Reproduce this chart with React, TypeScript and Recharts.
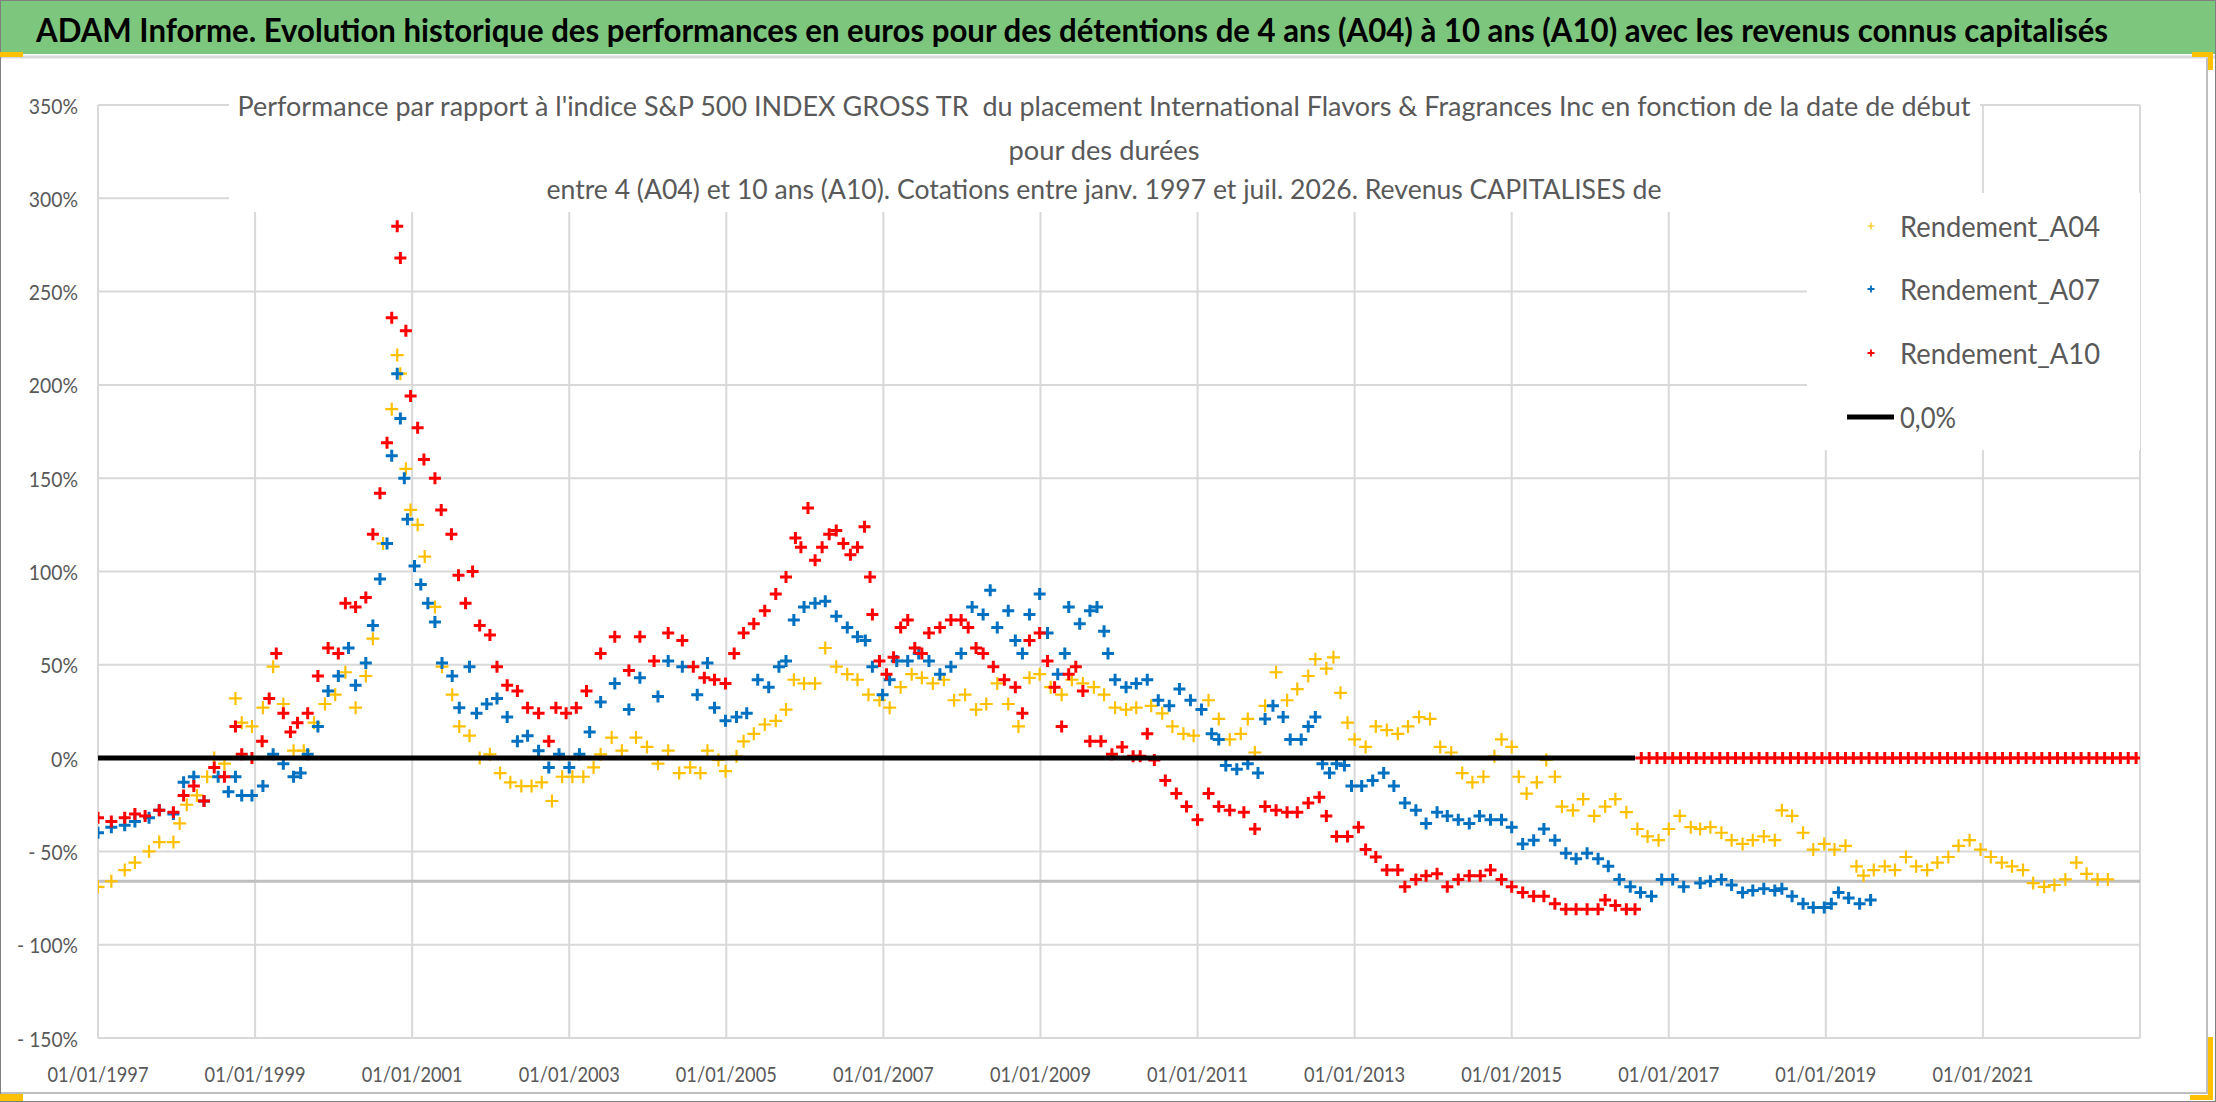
import React from 'react';
import { ScatterChart, Scatter, XAxis, YAxis, CartesianGrid, ReferenceLine } from 'recharts';

// page / plot geometry (px)
const W = 2216;
const H = 1102;
const PLOT = { left: 98, top: 105, right: 2140, bottom: 1038 };
const FONT = "Lato, 'Open Sans', sans-serif";
const GREY_TEXT = '#595959';

// ---- axes ----
const xTicks = [1997, 1999, 2001, 2003, 2005, 2007, 2009, 2011, 2013, 2015, 2017, 2019, 2021];
const xDomain = [1997, 2023];
const yTicks = [-150, -100, -50, 0, 50, 100, 150, 200, 250, 300, 350];
const yDomain = [-150, 350];
const lowerLineValue = -66;

// ---- series (start date as decimal year, performance in %) ----
const a04Years = [
  1997.0, 1997.17, 1997.34, 1997.47, 1997.65, 1997.78, 1997.96, 1998.04, 1998.13, 1998.26,
  1998.39, 1998.48, 1998.61, 1998.75, 1998.83, 1998.96, 1999.1, 1999.23, 1999.36, 1999.49,
  1999.62, 1999.75, 1999.89, 2000.02, 2000.15, 2000.28, 2000.41, 2000.5, 2000.63, 2000.74,
  2000.81, 2000.85, 2000.92, 2000.98, 2001.07, 2001.16, 2001.29, 2001.38, 2001.51, 2001.6,
  2001.73, 2001.86, 2001.99, 2002.12, 2002.25, 2002.39, 2002.52, 2002.65, 2002.78, 2002.91,
  2003.04, 2003.18, 2003.31, 2003.4, 2003.54, 2003.67, 2003.85, 2003.99, 2004.13, 2004.26,
  2004.4, 2004.54, 2004.67, 2004.76, 2004.9, 2004.99, 2005.13, 2005.22, 2005.35, 2005.49,
  2005.63, 2005.76, 2005.86, 2005.99, 2006.13, 2006.26, 2006.4, 2006.54, 2006.67, 2006.81,
  2006.95, 2007.08, 2007.22, 2007.36, 2007.49, 2007.63, 2007.77, 2007.9, 2008.04, 2008.18,
  2008.31, 2008.45, 2008.59, 2008.72, 2008.86, 2008.99, 2009.13, 2009.27, 2009.4, 2009.54,
  2009.68, 2009.81, 2009.95, 2010.09, 2010.22, 2010.41, 2010.55, 2010.68, 2010.82, 2010.95,
  2011.14, 2011.27, 2011.41, 2011.55, 2011.64, 2011.73, 2011.86, 2012.0, 2012.14, 2012.27,
  2012.41, 2012.5, 2012.64, 2012.73, 2012.82, 2012.91, 2013.0, 2013.14, 2013.27, 2013.41,
  2013.55, 2013.68, 2013.82, 2013.96, 2014.09, 2014.23, 2014.37, 2014.5, 2014.64, 2014.78,
  2014.87, 2015.0, 2015.09, 2015.19, 2015.32, 2015.44, 2015.55, 2015.64, 2015.78, 2015.91,
  2016.05, 2016.19, 2016.32, 2016.46, 2016.6, 2016.73, 2016.87, 2017.0, 2017.14, 2017.28,
  2017.4, 2017.53, 2017.67, 2017.8, 2017.94, 2018.07, 2018.21, 2018.35, 2018.44, 2018.57,
  2018.71, 2018.84, 2018.98, 2019.11, 2019.25, 2019.39, 2019.48, 2019.61, 2019.75, 2019.88,
  2020.02, 2020.15, 2020.29, 2020.42, 2020.56, 2020.69, 2020.83, 2020.97, 2021.1, 2021.24,
  2021.37, 2021.51, 2021.64, 2021.78, 2021.91, 2022.05, 2022.19, 2022.32, 2022.46, 2022.59,
];
const a04Values = [
  -69, -66, -60, -56, -50, -45, -45, -35, -25, -20,
  -10, 0, -3, 32, 19, 17, 27, 49, 29, 4,
  4, 19, 29, 34, 46, 27, 44, 64, 115, 187,
  216, 206, 155, 133, 125, 108, 81, 49, 34, 17,
  12, 0, 2, -8, -13, -15, -15, -13, -23, -10,
  -10, -10, -5, 2, 11, 4, 11, 6, -3, 4,
  -8, -5, -8, 4, -1, -7, 1, 9, 13, 18,
  20, 26, 42, 40, 40, 59, 49, 45, 42, 34,
  31, 27, 38, 45, 43, 40, 42, 31, 34, 26,
  29, 40, 29, 17, 43, 45, 38, 34, 42, 40,
  38, 34, 27, 26, 27, 28, 24, 17, 13, 12,
  31, 21, 10, 13, 21, 3, 28, 46, 31, 37,
  44, 53, 48, 54, 35, 19, 10, 6, 17, 15,
  13, 17, 22, 21, 6, 3, -8, -13, -10, 1,
  10, 6, -10, -19, -13, -1, -10, -26, -28, -22,
  -31, -26, -22, -29, -38, -42, -44, -38, -31, -37,
  -38, -37, -40, -44, -46, -44, -42, -44, -28, -31,
  -40, -49, -46, -49, -47, -58, -63, -60, -58, -60,
  -53, -58, -60, -56, -53, -47, -44, -49, -53, -56,
  -58, -60, -67, -69, -68, -65, -56, -62, -65, -65,
];

const a07Years = [
  1997.0, 1997.17, 1997.34, 1997.47, 1997.65, 1997.78, 1997.96, 1998.09, 1998.22, 1998.35,
  1998.53, 1998.66, 1998.75, 1998.83, 1998.96, 1999.1, 1999.23, 1999.36, 1999.49, 1999.58,
  1999.67, 1999.8, 1999.93, 2000.06, 2000.19, 2000.28, 2000.41, 2000.5, 2000.59, 2000.68,
  2000.74, 2000.81, 2000.85, 2000.9, 2000.94, 2001.03, 2001.11, 2001.2, 2001.29, 2001.38,
  2001.51, 2001.6, 2001.73, 2001.82, 2001.95, 2002.08, 2002.21, 2002.34, 2002.47, 2002.61,
  2002.74, 2002.87, 2003.0, 2003.13, 2003.26, 2003.4, 2003.58, 2003.76, 2003.9, 2004.13,
  2004.26, 2004.44, 2004.63, 2004.76, 2004.85, 2004.99, 2005.13, 2005.26, 2005.4, 2005.54,
  2005.67, 2005.76, 2005.86, 2005.99, 2006.13, 2006.26, 2006.4, 2006.54, 2006.67, 2006.77,
  2006.86, 2006.99, 2007.08, 2007.17, 2007.31, 2007.45, 2007.58, 2007.72, 2007.86, 2007.99,
  2008.13, 2008.27, 2008.36, 2008.45, 2008.59, 2008.68, 2008.77, 2008.86, 2008.99, 2009.09,
  2009.22, 2009.31, 2009.36, 2009.5, 2009.63, 2009.72, 2009.81, 2009.86, 2009.95, 2010.09,
  2010.22, 2010.36, 2010.5, 2010.64, 2010.77, 2010.91, 2011.05, 2011.18, 2011.27, 2011.36,
  2011.5, 2011.64, 2011.77, 2011.86, 2011.96, 2012.09, 2012.18, 2012.32, 2012.41, 2012.5,
  2012.59, 2012.68, 2012.77, 2012.87, 2012.96, 2013.09, 2013.23, 2013.37, 2013.5, 2013.64,
  2013.78, 2013.91, 2014.05, 2014.18, 2014.32, 2014.46, 2014.59, 2014.73, 2014.87, 2015.0,
  2015.14, 2015.28, 2015.41, 2015.55, 2015.69, 2015.82, 2015.96, 2016.1, 2016.23, 2016.37,
  2016.51, 2016.64, 2016.78, 2016.91, 2017.05, 2017.19, 2017.4, 2017.53, 2017.67, 2017.8,
  2017.94, 2018.07, 2018.21, 2018.35, 2018.44, 2018.57, 2018.71, 2018.84, 2018.98, 2019.07,
  2019.16, 2019.29, 2019.43, 2019.57,
];
const a07Values = [
  -40, -37, -36, -34, -32, -28, -30, -13, -10, -23,
  -10, -18, -10, -20, -20, -15, 2, -3, -10, -8,
  2, 17, 36, 44, 59, 39, 51, 71, 96, 115,
  162, 206, 182, 150, 128, 103, 93, 83, 73, 51,
  44, 27, 49, 24, 29, 32, 22, 9, 12, 4,
  -5, 2, -5, 2, 14, 30, 40, 26, 43, 33,
  52, 49, 34, 51, 27, 20, 22, 24, 42, 38,
  49, 52, 74, 81, 83, 84, 76, 70, 65, 63,
  49, 34, 42, 52, 52, 56, 52, 45, 49, 56,
  81, 77, 90, 70, 79, 63, 56, 77, 88, 67,
  45, 56, 81, 72, 79, 81, 68, 56, 42, 38,
  40, 42, 31, 28, 37, 31, 26, 13, 10, -4,
  -6, -3, -8, 21, 28, 22, 10, 10, 17, 22,
  -3, -8, -3, -4, -15, -15, -12, -8, -15, -24,
  -28, -35, -29, -31, -33, -35, -31, -33, -33, -37,
  -46, -44, -38, -44, -51, -54, -51, -54, -58, -65,
  -69, -72, -74, -65, -65, -69, -67, -66, -65, -68,
  -72, -71, -70, -71, -70, -74, -78, -80, -80, -78,
  -72, -75, -78, -76,
];

const a10Years = [
  1997.0, 1997.17, 1997.34, 1997.47, 1997.6, 1997.78, 1997.96, 1998.09, 1998.22, 1998.35,
  1998.48, 1998.61, 1998.75, 1998.83, 1998.96, 1999.09, 1999.18, 1999.27, 1999.36, 1999.45,
  1999.54, 1999.67, 1999.8, 1999.93, 2000.06, 2000.15, 2000.28, 2000.41, 2000.5, 2000.59,
  2000.68, 2000.74, 2000.81, 2000.85, 2000.92, 2000.98, 2001.07, 2001.15, 2001.29, 2001.37,
  2001.5, 2001.59, 2001.68, 2001.77, 2001.86, 2001.99, 2002.08, 2002.21, 2002.34, 2002.47,
  2002.61, 2002.74, 2002.83, 2002.96, 2003.09, 2003.22, 2003.4, 2003.58, 2003.76, 2003.9,
  2004.08, 2004.26, 2004.44, 2004.58, 2004.72, 2004.85, 2004.99, 2005.1, 2005.22, 2005.35,
  2005.49, 2005.63, 2005.76, 2005.88, 2005.95, 2006.04, 2006.13, 2006.22, 2006.31, 2006.4,
  2006.49, 2006.58, 2006.67, 2006.76, 2006.83, 2006.86, 2006.95, 2007.04, 2007.13, 2007.22,
  2007.31, 2007.4, 2007.49, 2007.58, 2007.72, 2007.86, 2007.99, 2008.08, 2008.18, 2008.27,
  2008.4, 2008.54, 2008.68, 2008.77, 2008.86, 2008.99, 2009.09, 2009.18, 2009.27, 2009.36,
  2009.45, 2009.54, 2009.63, 2009.77, 2009.91, 2010.04, 2010.18, 2010.27, 2010.36, 2010.45,
  2010.59, 2010.73, 2010.86, 2011.0, 2011.14, 2011.27, 2011.41, 2011.59, 2011.73, 2011.86,
  2012.0, 2012.14, 2012.27, 2012.41, 2012.55, 2012.64, 2012.77, 2012.91, 2013.05, 2013.14,
  2013.27, 2013.41, 2013.55, 2013.64, 2013.78, 2013.91, 2014.05, 2014.18, 2014.32, 2014.46,
  2014.6, 2014.73, 2014.87, 2015.0, 2015.14, 2015.28, 2015.41, 2015.55, 2015.69, 2015.82,
  2015.96, 2016.1, 2016.19, 2016.32, 2016.46, 2016.57,
  // from mid-2016 the 10-year window is not complete: value stays at 0
  2016.65, 2016.75, 2016.85, 2016.95, 2017.05, 2017.15, 2017.25, 2017.35, 2017.45, 2017.55,
  2017.65, 2017.75, 2017.85, 2017.95, 2018.05, 2018.15, 2018.25, 2018.35, 2018.45, 2018.55,
  2018.65, 2018.75, 2018.85, 2018.95, 2019.05, 2019.15, 2019.25, 2019.35, 2019.45, 2019.55,
  2019.65, 2019.75, 2019.85, 2019.95, 2020.05, 2020.15, 2020.25, 2020.35, 2020.45, 2020.55,
  2020.65, 2020.75, 2020.85, 2020.95, 2021.05, 2021.15, 2021.25, 2021.35, 2021.45, 2021.55,
  2021.65, 2021.75, 2021.85, 2021.95, 2022.05, 2022.15, 2022.25, 2022.35, 2022.45, 2022.55,
  2022.65, 2022.75, 2022.85, 2022.95,
];
const a10Values = [
  -32, -34, -32, -30, -31, -28, -29, -20, -15, -23,
  -5, -10, 17, 2, 0, 9, 32, 56, 24, 14,
  19, 24, 44, 59, 56, 83, 81, 86, 120, 142,
  169, 236, 285, 268, 229, 194, 177, 160, 150, 133,
  120, 98, 83, 100, 71, 66, 49, 39, 36, 27,
  24, 9, 27, 24, 27, 36, 56, 65, 47, 65,
  52, 67, 63, 49, 43, 42, 40, 56, 67, 72,
  79, 88, 97, 118, 113, 134, 106, 113, 120, 122,
  115, 109, 113, 124, 97, 77, 52, 45, 54, 70,
  74, 59, 56, 67, 70, 74, 74, 70, 59, 56,
  49, 42, 38, 24, 63, 67, 52, 38, 17, 45,
  49, 36, 9, 9, 2, 6, 1, 1, 13, -1,
  -12, -19, -26, -33, -19, -26, -28, -29, -38, -26,
  -28, -29, -29, -24, -21, -31, -42, -42, -37, -49,
  -53, -60, -60, -69, -65, -63, -62, -69, -65, -63,
  -63, -60, -65, -69, -72, -74, -74, -78, -81, -81,
  -81, -81, -76, -79, -81, -81,
  0, 0, 0, 0, 0, 0, 0, 0, 0, 0,
  0, 0, 0, 0, 0, 0, 0, 0, 0, 0,
  0, 0, 0, 0, 0, 0, 0, 0, 0, 0,
  0, 0, 0, 0, 0, 0, 0, 0, 0, 0,
  0, 0, 0, 0, 0, 0, 0, 0, 0, 0,
  0, 0, 0, 0, 0, 0, 0, 0, 0, 0,
  0, 0, 0, 0,
];

// black "0,0%" line, drawn while A10 has real values
const zeroLineYears = [1997.0, 2016.57];
const zeroLineValues = [0, 0];

const seriesNames = ['Rendement_A04', 'Rendement_A07', 'Rendement_A10'];
const seriesColors = ['#FFC000', '#0070C0', '#FF0000'];
const zeroLineName = '0,0%';

const mainTitle =
  'ADAM Informe. Evolution historique des performances en euros pour des détentions de 4 ans (A04) à 10 ans (A10) avec les revenus connus capitalisés';
const subTitleLines = [
  "Performance par rapport à l'indice S&P 500 INDEX GROSS TR  du placement International Flavors & Fragrances Inc en fonction de la date de début",
  'pour des durées',
  'entre 4 (A04) et 10 ans (A10). Cotations entre janv. 1997 et juil. 2026. Revenus CAPITALISES de',
];

const toPoints = (xs: number[], ys: number[]) => xs.map((x, i) => ({ x, y: ys[i] }));
const a04Data = toPoints(a04Years, a04Values);
const a07Data = toPoints(a07Years, a07Values);
const a10Data = toPoints(a10Years, a10Values);
const zeroData = toPoints(zeroLineYears, zeroLineValues);

const plusShape = (color: string, half: number, width: number) => (props: any) => {
  const { cx, cy } = props;
  if (typeof cx !== 'number' || typeof cy !== 'number') return <g />;
  return (
    <path
      d={`M${cx - half} ${cy}H${cx + half}M${cx} ${cy - half}V${cy + half}`}
      stroke={color}
      strokeWidth={width}
      fill="none"
    />
  );
};

const FitText = ({ x, y, w, size, anchor = 'start', weight = 400, color = GREY_TEXT, children }: any) => (
  <text
    x={x}
    y={y}
    fontFamily={FONT}
    fontSize={size}
    fontWeight={weight}
    fill={color}
    textAnchor={anchor}
    dominantBaseline="central"
    textLength={w}
    lengthAdjust="spacingAndGlyphs"
    style={{ whiteSpace: 'pre' }}
  >
    {children}
  </text>
);

const yLabel = (v: number) => (v < 0 ? `- ${-v}%` : `${v}%`);
const yLabelWidth = (v: number) =>
  22 * (0.507 * String(Math.abs(v)).length + 0.715 + (v < 0 ? 0.532 : 0));

const YTick = (props: any) => {
  const { y, payload } = props;
  return (
    <FitText x={78} y={y} w={yLabelWidth(payload.value)} size={22} anchor="end">
      {yLabel(payload.value)}
    </FitText>
  );
};

const XTick = (props: any) => {
  const { x, payload } = props;
  return (
    <FitText x={x} y={PLOT.bottom + 35} w={101} size={22} anchor="middle">
      {`01/01/${payload.value}`}
    </FitText>
  );
};

const Frame = () => (
  <svg width={W} height={H} style={{ position: 'absolute', left: 0, top: 0 }}>
    <rect x={0} y={0} width={W} height={54} fill="#7DC67E" />
    <line x1={0} y1={57} x2={W} y2={57} stroke="#D9D9D9" strokeWidth={3} />
    <line x1={2207} y1={58} x2={2207} y2={1093} stroke="#BFBFBF" strokeWidth={2} />
    <line x1={0} y1={1093} x2={2208} y2={1093} stroke="#BFBFBF" strokeWidth={2} />
    <rect x={0.5} y={0.5} width={W - 1} height={H - 1} fill="none" stroke="#808080" strokeWidth={1} />
    <rect x={0} y={52} width={23} height={5} fill="#FFC000" />
    <rect x={2192} y={52} width={21} height={5} fill="#FFC000" />
    <rect x={2208} y={52} width={5} height={18} fill="#FFC000" />
    <rect x={0} y={1094} width={23} height={7} fill="#FFC000" />
    <rect x={2208} y={1037} width={5} height={63} fill="#FFC000" />
    <rect x={2190} y={1095} width={23} height={5} fill="#FFC000" />
    <FitText x={1072} y={29} w={2072} size={32} weight={700} anchor="middle" color="#000000">
      {mainTitle}
    </FitText>
  </svg>
);

const TitleBox = () => {
  const left = 229;
  const top = 62;
  const cx = 1104 - left;
  const rows = [
    { y: 105 - top, w: 1733 },
    { y: 149 - top, w: 191 },
    { y: 188 - top, w: 1115 },
  ];
  return (
    <div style={{ position: 'absolute', left, top, width: 1751, height: 150, background: '#fff' }}>
      <svg width={1751} height={150}>
        {subTitleLines.map((t, i) => (
          <FitText key={i} x={cx} y={rows[i].y} w={rows[i].w} size={27} anchor="middle">
            {t}
          </FitText>
        ))}
      </svg>
    </div>
  );
};

const LegendBox = () => {
  const left = 1807;
  const top = 193;
  const rowY = [33, 96, 160];
  return (
    <div style={{ position: 'absolute', left, top, width: 333, height: 257, background: '#fff' }}>
      <svg width={333} height={257}>
        {seriesNames.map((name, i) => (
          <g key={name}>
            {plusShape(seriesColors[i], 3.5, i === 0 ? 1.2 : 1.8)({ cx: 64, cy: rowY[i] })}
            <FitText x={93} y={rowY[i]} w={200} size={28}>
              {name}
            </FitText>
          </g>
        ))}
        <line x1={40} y1={224} x2={87} y2={224} stroke="#000" strokeWidth={5} />
        <FitText x={93} y={224} w={56} size={28}>
          {zeroLineName}
        </FitText>
      </svg>
    </div>
  );
};

export default function App() {
  return (
    <div style={{ position: 'absolute', left: 0, top: 0, width: W, height: H, background: '#fff', overflow: 'hidden' }}>
      <Frame />
      <div style={{ position: 'absolute', left: 0, top: 0 }}>
        <ScatterChart
          width={W}
          height={H}
          margin={{ top: PLOT.top, right: W - PLOT.right, bottom: H - PLOT.bottom - 40, left: 0 }}
        >
          <CartesianGrid stroke="#D9D9D9" strokeWidth={2} />
          <XAxis
            type="number"
            dataKey="x"
            domain={xDomain}
            ticks={xTicks}
            interval={0}
            tick={(p: any) => <XTick {...p} />}
            tickLine={false}
            axisLine={{ stroke: '#D9D9D9', strokeWidth: 2 }}
            height={40}
            allowDataOverflow
          />
          <YAxis
            type="number"
            dataKey="y"
            domain={yDomain}
            ticks={yTicks}
            interval={0}
            tick={(p: any) => <YTick {...p} />}
            tickLine={false}
            axisLine={{ stroke: '#D9D9D9', strokeWidth: 2 }}
            width={PLOT.left}
            allowDataOverflow
          />
          <ReferenceLine y={lowerLineValue} stroke="#BFBFBF" strokeWidth={3} />
          <Scatter name={seriesNames[0]} data={a04Data} shape={plusShape(seriesColors[0], 6.5, 2.2)} isAnimationActive={false} />
          <Scatter name={seriesNames[1]} data={a07Data} shape={plusShape(seriesColors[1], 6, 3)} isAnimationActive={false} />
          <Scatter name={seriesNames[2]} data={a10Data} shape={plusShape(seriesColors[2], 6, 3)} isAnimationActive={false} />
          <Scatter
            name={zeroLineName}
            data={zeroData}
            line={{ stroke: '#000000', strokeWidth: 5 }}
            shape={() => <g />}
            isAnimationActive={false}
          />
        </ScatterChart>
      </div>
      <TitleBox />
      <LegendBox />
    </div>
  );
}
